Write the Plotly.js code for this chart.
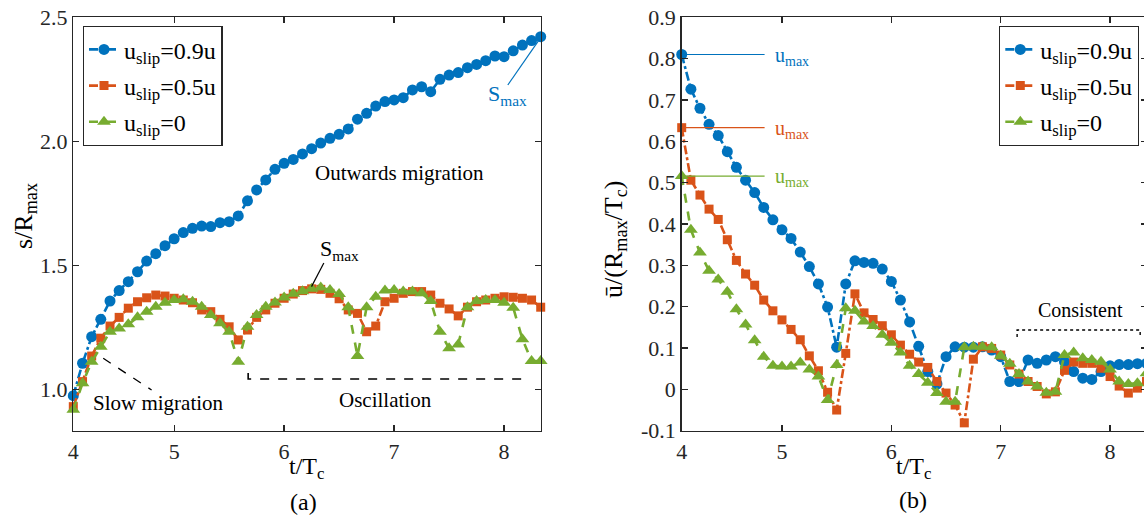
<!DOCTYPE html>
<html>
<head>
<meta charset="utf-8">
<script src="https://cdn.plot.ly/plotly-3.0.1.min.js"></script>
<style>
html,body{margin:0;padding:0;overflow:hidden;background:#fff;}
#chart{width:1150px;height:517px;}
</style>
</head>
<body>
<div id="chart"></div>
<script>
// time axis t/Tc
const time = [4.083,4.167,4.25,4.333,4.417,4.5,4.583,4.667,4.75,4.833,4.917,5,5.083,5.167,5.25,5.333,5.417,5.5,5.583,5.667,5.75,5.833,5.917,6,6.083,6.167,6.25,6.333,6.417,6.5,6.583,6.667,6.75,6.833,6.917,7,7.083,7.167,7.25,7.333,7.417,7.5,7.583,7.667,7.75,7.833,7.917,8,8.083,8.167,8.25,8.333];

// (a) s/Rmax
const sSlip09 = [0.974,1.105,1.212,1.282,1.356,1.398,1.434,1.474,1.517,1.547,1.579,1.607,1.632,1.649,1.658,1.656,1.672,1.676,1.699,1.760,1.804,1.844,1.887,1.911,1.927,1.949,1.970,1.993,2.012,2.028,2.050,2.089,2.113,2.142,2.160,2.167,2.176,2.207,2.220,2.200,2.250,2.267,2.277,2.297,2.310,2.325,2.344,2.341,2.365,2.388,2.406,2.422];
const sSlip05 = [0.930,1.031,1.134,1.206,1.255,1.290,1.327,1.353,1.369,1.380,1.376,1.367,1.360,1.349,1.320,1.313,1.282,1.252,1.199,1.239,1.290,1.320,1.347,1.367,1.384,1.398,1.405,1.403,1.387,1.365,1.320,1.306,1.232,1.255,1.353,1.367,1.387,1.394,1.394,1.380,1.347,1.324,1.296,1.331,1.353,1.360,1.367,1.373,1.371,1.367,1.360,1.331];
const sSlip0  = [0.917,1.024,1.111,1.172,1.232,1.245,1.262,1.290,1.313,1.333,1.349,1.360,1.363,1.353,1.333,1.300,1.266,1.232,1.111,1.252,1.300,1.333,1.350,1.370,1.385,1.395,1.405,1.410,1.400,1.384,1.331,1.134,1.331,1.373,1.398,1.400,1.394,1.394,1.387,1.356,1.232,1.165,1.181,1.331,1.356,1.360,1.360,1.349,1.329,1.202,1.114,1.114];

// (b) mean velocity
const uSlip09 = [0.810,0.726,0.680,0.641,0.614,0.575,0.537,0.506,0.476,0.440,0.410,0.386,0.365,0.332,0.297,0.255,0.199,0.102,0.255,0.311,0.307,0.305,0.291,0.261,0.216,0.163,0.104,0.043,0.013,0.079,0.103,0.102,0.102,0.103,0.095,0.079,0.019,0.019,0.071,0.063,0.071,0.079,0.067,0.043,0.027,0.024,0.043,0.057,0.060,0.060,0.062,0.063];
const uSlip05 = [0.633,0.506,0.470,0.436,0.411,0.362,0.312,0.279,0.252,0.216,0.190,0.168,0.145,0.120,0.081,0.045,-0.007,-0.050,0.087,0.231,0.185,0.169,0.154,0.132,0.107,0.085,0.066,0.053,0.019,-0.009,-0.038,-0.081,0.073,0.103,0.099,0.083,0.059,0.037,0.019,0.007,-0.011,-0.006,0.046,0.066,0.063,0.063,0.051,0.031,0.008,-0.009,0.003,0.019];
const uSlip0  = [0.516,0.386,0.331,0.287,0.266,0.236,0.194,0.157,0.119,0.079,0.057,0.055,0.055,0.065,0.048,0.031,-0.026,0.059,0.196,0.190,0.164,0.153,0.132,0.113,0.089,0.057,0.037,0.016,-0.009,-0.030,-0.030,0.102,0.103,0.103,0.102,0.081,0.062,0.037,0.019,0.007,-0.008,-0.006,0.083,0.089,0.075,0.071,0.067,0.048,0.019,0.013,0.015,0.039];

const seriesNames = ['u<sub>slip</sub>=0.9u','u<sub>slip</sub>=0.5u','u<sub>slip</sub>=0'];
const xTickVals = [4.083,5,6,7,8];
const xTickText = ['4','5','6','7','8'];
const yTickValsA = [1,1.5,2,2.5];
const yTickTextA = ['1.0','1.5','2.0','2.5'];
const yTickValsB = [-0.1,0,0.1,0.2,0.3,0.4,0.5,0.6,0.7,0.8,0.9];
const yTickTextB = ['-0.1','0','0.1','0.2','0.3','0.4','0.5','0.6','0.7','0.8','0.9'];

const BLUE='#0072BD', ORANGE='#D95319', GREEN='#77AC30';
const styles = [
  {color:BLUE, symbol:'circle', size:11, dash:'dashdot'},
  {color:ORANGE, symbol:'square', size:9, dash:'dashdot'},
  {color:GREEN, symbol:'triangle-up', size:12, dash:'dash'}
];

function mk(x,y,i,xa,ya,leg){
  const s=styles[i];
  return {x:x,y:y,xaxis:xa,yaxis:ya,type:'scatter',mode:'lines+markers',name:seriesNames[i],
    legend:leg,legendgroup:leg+i,cliponaxis:false,
    line:{color:s.color,width:2.6,dash:s.dash},
    marker:{color:s.color,symbol:s.symbol,size:s.size,line:{width:0}}};
}
const data=[
  mk(time,sSlip09,0,'x','y','legend'),
  mk(time,sSlip05,1,'x','y','legend'),
  mk(time,sSlip0,2,'x','y','legend'),
  mk(time,uSlip09,0,'x2','y2','legend2'),
  mk(time,uSlip05,1,'x2','y2','legend2'),
  mk(time,uSlip0,2,'x2','y2','legend2')
];

const W=1150,H=517;
const FONT='Liberation Serif, Times New Roman, serif';
const axBase={showgrid:false,zeroline:false,showline:true,linecolor:'#262626',linewidth:1.5,
  mirror:'ticks',ticks:'inside',ticklen:6,tickwidth:1.3,tickcolor:'#262626',
  tickfont:{family:FONT,size:22,color:'#262626'}};

const yTop=1-17.3/H, yBot=1-430.7/H;
function ann(xref,yref,x,y,text,size,color,extra){
  return Object.assign({xref:xref,yref:yref,x:x,y:y,text:text,showarrow:false,xanchor:'center',yanchor:'middle',
    font:{family:FONT,size:size,color:color}},extra||{});
}
const layout={
  width:W,height:H,margin:{l:0,r:0,t:0,b:0},paper_bgcolor:'#fff',plot_bgcolor:'#fff',
  font:{family:FONT,color:'#000'},
  showlegend:true,
  xaxis:Object.assign({},axBase,{domain:[73.3/W,540.7/W],range:[4.083,8.333],tickmode:'array',tickvals:xTickVals,ticktext:xTickText,anchor:'y'}),
  yaxis:Object.assign({},axBase,{domain:[yBot,yTop],range:[0.833,2.5],tickmode:'array',tickvals:yTickValsA,ticktext:yTickTextA,anchor:'x'}),
  xaxis2:Object.assign({},axBase,{domain:[681.7/W,1146.5/W],range:[4.083,8.333],tickmode:'array',tickvals:xTickVals,ticktext:xTickText,anchor:'y2'}),
  yaxis2:Object.assign({},axBase,{domain:[yBot,yTop],range:[-0.1,0.9],tickmode:'array',tickvals:yTickValsB,ticktext:yTickTextB,anchor:'x2'}),
  legend:{x:82.7/W,y:1-26/H,xanchor:'left',yanchor:'top',bgcolor:'#fff',bordercolor:'#262626',borderwidth:1.3,
    font:{family:FONT,size:24,color:'#000'},itemwidth:30,tracegroupgap:2},
  legend2:{x:1139/W,y:1-26/H,xanchor:'right',yanchor:'top',bgcolor:'#fff',bordercolor:'#262626',borderwidth:1.3,
    font:{family:FONT,size:24,color:'#000'},itemwidth:30,tracegroupgap:2},
  shapes:[
    // (a) blue Smax pointer
    {type:'line',xref:'x',yref:'y',x0:8.034,y0:2.227,x1:8.32,y1:2.41,line:{color:BLUE,width:1.2}},
    // (a) black Smax pointer
    {type:'line',xref:'x',yref:'y',x0:6.361,y0:1.509,x1:6.249,y1:1.414,line:{color:'#000',width:1.2}},
    // slow migration dashed pointer
    {type:'line',xref:'x',yref:'y',x0:4.355,y0:1.125,x1:4.795,y1:0.997,line:{color:'#000',width:1.3,dash:'dash'}},
    // oscillation bracket
    {type:'path',xref:'x',yref:'y',path:'M 5.673 1.0657 L 5.673 1.0415 L 8.173 1.0415 L 8.173 1.0657',line:{color:'#000',width:1.6,dash:'dash'}},
    // (b) umax lines
    {type:'line',xref:'x2',yref:'y2',x0:4.083,y0:0.810,x1:4.841,y1:0.810,line:{color:BLUE,width:1.2}},
    {type:'line',xref:'x2',yref:'y2',x0:4.083,y0:0.633,x1:4.841,y1:0.633,line:{color:ORANGE,width:1.2}},
    {type:'line',xref:'x2',yref:'y2',x0:4.083,y0:0.516,x1:4.841,y1:0.516,line:{color:GREEN,width:1.2}},
    // consistent bracket
    {type:'path',xref:'x2',yref:'y2',path:'M 7.150 0.1267 L 7.150 0.1436 L 8.275 0.1436 L 8.275 0.1267',line:{color:'#000',width:1.4,dash:'dot'}}
  ],
  annotations:[
    ann('x','y',8.03,2.185,'S<sub>max</sub>',22,BLUE),
    ann('x','y',6.50,1.56,'S<sub>max</sub>',22,'#000'),
    ann('x','y',7.052,1.873,'Outwards migration',21,'#000'),
    ann('x','y',4.861,0.945,'Slow migration',21,'#000'),
    ann('x','y',6.925,0.956,'Oscillation',21,'#000'),
    ann('x2','y2',5.089,0.806,'u<sub>max</sub>',20,BLUE),
    ann('x2','y2',5.089,0.629,'u<sub>max</sub>',20,ORANGE),
    ann('x2','y2',5.089,0.512,'u<sub>max</sub>',20,GREEN),
    ann('x2','y2',7.73,0.192,'Consistent',20,'#000'),
    ann('paper','paper',306/W,1-468/H,'t/T<sub>c</sub>',24,'#000'),
    ann('paper','paper',913/W,1-468/H,'t/T<sub>c</sub>',24,'#000'),
    ann('paper','paper',303/W,1-502/H,'(a)',24,'#000'),
    ann('paper','paper',913/W,1-500/H,'(b)',24,'#000'),
    ann('paper','paper',25/W,1-216/H,'s/R<sub>max</sub>',26,'#000',{textangle:-90}),
    ann('paper','paper',615/W,1-240/H,'ū/(R<sub>max</sub>/T<sub>c</sub>)',26,'#000',{textangle:-90})
  ]
};
Plotly.newPlot('chart',data,layout,{displayModeBar:false,staticPlot:true});
</script>
</body>
</html>
